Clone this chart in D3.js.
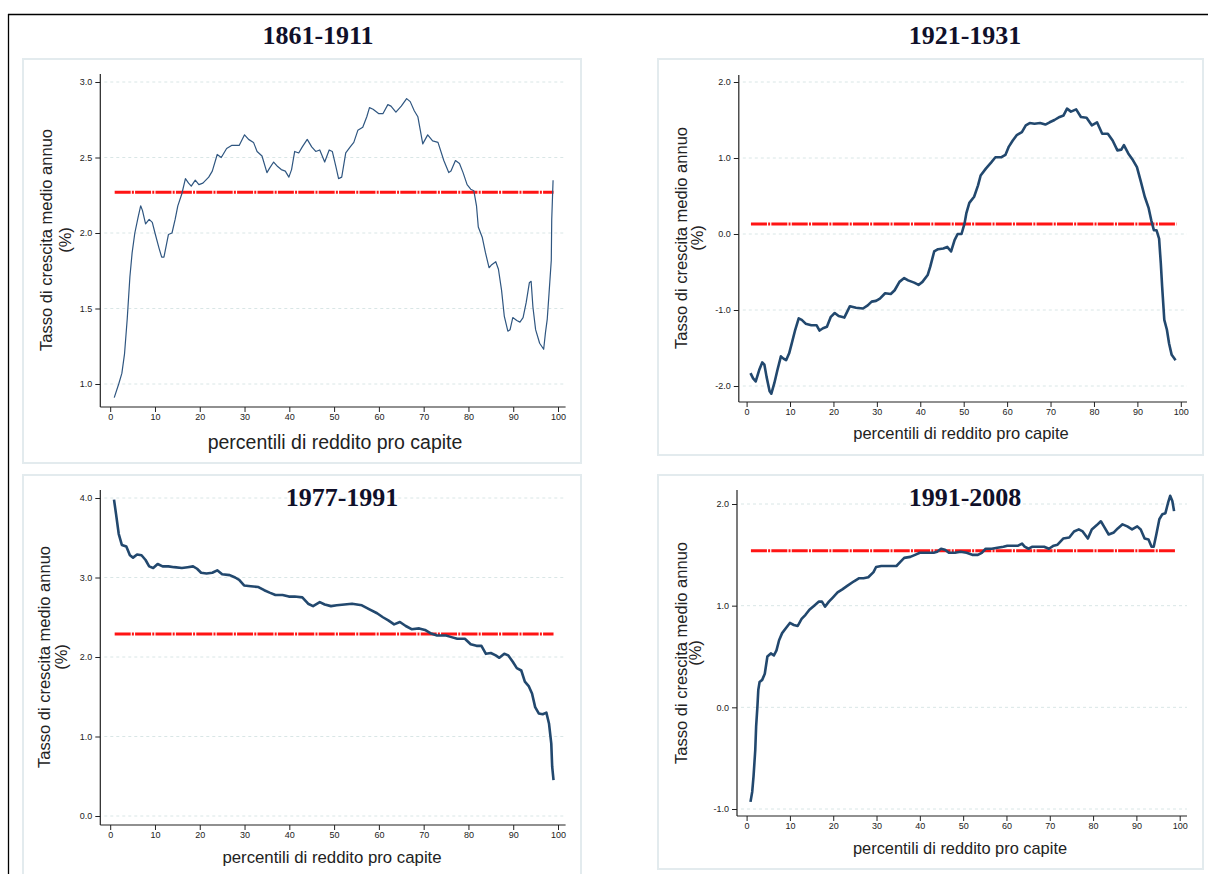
<!DOCTYPE html>
<html><head><meta charset="utf-8">
<script src="https://cdn.jsdelivr.net/npm/d3@7/dist/d3.min.js"></script>
<style>
html,body{margin:0;padding:0;background:#fff;}
svg{display:block;}
</style></head>
<body>
<svg id="chart" width="1208" height="874"></svg>
<script>
// ---------- DATA ----------
const titles = ["1861-1911", "1921-1931", "1977-1991", "1991-2008"];
const yAxisTitle = "Tasso di crescita medio annuo";
const yAxisUnit = "(%)";
const xAxisTitle = "percentili di reddito pro capite";
const xTicks = [0, 10, 20, 30, 40, 50, 60, 70, 80, 90, 100];
const yTicks1861 = [1.0, 1.5, 2.0, 2.5, 3.0];
const yTicks1921 = [-2.0, -1.0, 0.0, 1.0, 2.0];
const yTicks1977 = [0.0, 1.0, 2.0, 3.0, 4.0];
const yTicks1991 = [-1.0, 0.0, 1.0, 2.0];
const meanRates = [2.27, 0.13, 2.29, 1.54];
const meanRange = [1, 99];

const pct1861 = [0.9,1.9,2.6,3.2,3.8,4.4,4.9,5.5,6.2,6.8,7.2,7.9,8.7,9.4,10.0,10.9,11.5,12.0,12.6,13.0,13.8,14.5,15.1,16.0,16.8,17.5,18.1,19.0,19.8,20.7,22.0,22.8,23.9,24.8,26.0,27.1,28.8,30.0,30.9,32.0,32.8,33.9,35.0,35.6,36.5,37.4,38.2,39.1,39.9,40.5,41.2,42.1,42.9,44.0,45.0,45.9,46.8,47.9,48.9,49.6,50.4,51.0,51.7,52.6,53.6,54.4,55.3,56.4,57.3,57.9,58.7,60.0,60.9,62.0,62.7,63.8,65.0,66.2,67.0,67.9,68.7,69.8,70.9,72.0,73.2,74.5,75.6,76.1,77.1,78.0,78.8,79.7,80.5,81.2,81.8,82.2,83.1,83.8,84.6,85.2,86.1,86.7,87.4,88.0,88.8,89.3,89.9,90.8,91.5,92.2,92.9,93.6,94.0,94.4,95.0,95.9,96.8,97.2,97.6,98.0,98.5,98.6,98.9];
const val1861 = [0.91,1.0,1.07,1.2,1.43,1.71,1.87,2.0,2.1,2.18,2.15,2.06,2.09,2.07,2.0,1.9,1.84,1.84,1.93,1.99,2.0,2.09,2.18,2.26,2.36,2.33,2.31,2.35,2.32,2.33,2.37,2.41,2.52,2.5,2.56,2.58,2.58,2.65,2.62,2.6,2.54,2.51,2.4,2.43,2.47,2.44,2.42,2.41,2.37,2.42,2.54,2.53,2.57,2.62,2.57,2.54,2.55,2.47,2.55,2.54,2.44,2.36,2.37,2.53,2.57,2.6,2.68,2.7,2.77,2.83,2.82,2.79,2.79,2.85,2.84,2.8,2.84,2.89,2.87,2.81,2.77,2.59,2.65,2.61,2.6,2.48,2.4,2.41,2.48,2.46,2.4,2.32,2.29,2.28,2.18,2.04,1.97,1.87,1.77,1.79,1.81,1.76,1.62,1.45,1.35,1.36,1.44,1.42,1.41,1.44,1.54,1.67,1.68,1.51,1.36,1.27,1.23,1.34,1.43,1.6,1.82,2.09,2.35];

const pct1921 = [0.9,1.5,2.1,2.9,3.6,4.1,4.6,5.3,5.7,6.4,7.1,7.9,8.5,9.1,9.8,10.4,11.2,12.0,12.7,13.6,14.9,16.1,16.8,17.6,18.5,19.4,20.3,21.2,22.5,23.8,25.2,26.8,27.9,28.8,29.8,30.7,31.9,33.2,34.1,35.2,36.3,37.2,38.6,39.6,40.5,41.7,42.3,43.2,44.1,45.3,46.2,47.1,47.9,48.6,49.5,50.2,50.6,51.3,52.4,53.3,53.9,55.1,56.3,57.3,58.7,59.6,60.4,61.3,62.2,63.4,64.3,65.2,66.3,67.6,68.8,69.8,70.9,72.1,73.0,73.8,74.7,75.9,77.0,78.3,79.5,80.7,81.9,83.2,84.3,85.4,86.3,86.9,87.9,89.0,89.9,90.8,91.7,92.6,93.2,93.8,94.4,95.0,95.4,95.7,96.2,96.8,97.3,97.9,98.8];
const val1921 = [-1.83,-1.9,-1.94,-1.79,-1.69,-1.72,-1.88,-2.07,-2.1,-1.96,-1.79,-1.61,-1.64,-1.66,-1.57,-1.44,-1.26,-1.11,-1.13,-1.18,-1.2,-1.2,-1.27,-1.24,-1.22,-1.09,-1.04,-1.08,-1.1,-0.95,-0.97,-0.98,-0.94,-0.89,-0.88,-0.85,-0.78,-0.79,-0.74,-0.63,-0.58,-0.61,-0.64,-0.67,-0.63,-0.54,-0.43,-0.23,-0.2,-0.19,-0.17,-0.23,-0.08,0.0,0.0,0.14,0.27,0.41,0.49,0.64,0.77,0.86,0.94,1.01,1.01,1.04,1.15,1.23,1.3,1.34,1.43,1.46,1.45,1.46,1.44,1.47,1.5,1.54,1.56,1.65,1.61,1.64,1.54,1.53,1.43,1.47,1.32,1.32,1.23,1.1,1.11,1.17,1.06,0.97,0.88,0.69,0.49,0.34,0.18,0.05,0.05,-0.06,-0.39,-0.69,-1.13,-1.26,-1.44,-1.59,-1.66];

const pct1977 = [0.85,1.3,1.9,2.6,3.6,4.4,5.1,6.0,7.0,7.9,8.7,9.6,10.6,11.7,13.0,14.3,16.0,17.3,18.5,19.4,20.3,21.5,22.8,23.9,25.0,26.7,27.9,28.8,29.9,31.4,33.1,34.4,35.6,36.9,38.5,39.9,41.2,42.9,44.2,45.3,46.8,47.9,49.3,50.6,52.3,54.0,56.2,57.9,59.6,60.9,62.1,63.4,64.7,66.0,67.3,69.0,70.3,71.5,73.0,75.0,76.2,77.5,79.2,80.5,81.8,82.9,83.9,85.0,86.1,86.9,88.0,88.9,89.9,90.8,91.8,92.6,93.5,94.2,94.9,95.7,96.6,97.4,98.0,98.5,98.7,99.0];
const val1977 = [3.98,3.8,3.55,3.41,3.39,3.28,3.25,3.29,3.28,3.22,3.14,3.12,3.17,3.14,3.14,3.13,3.12,3.13,3.14,3.11,3.06,3.05,3.06,3.09,3.04,3.03,3.0,2.97,2.9,2.89,2.88,2.84,2.81,2.78,2.78,2.76,2.76,2.75,2.67,2.64,2.69,2.66,2.64,2.65,2.66,2.67,2.65,2.6,2.55,2.5,2.46,2.41,2.44,2.39,2.35,2.36,2.34,2.3,2.27,2.27,2.25,2.23,2.23,2.16,2.14,2.14,2.04,2.05,2.02,1.99,2.04,2.02,1.94,1.86,1.83,1.69,1.63,1.54,1.37,1.29,1.28,1.3,1.16,0.91,0.62,0.45];

const pct1991 = [0.9,1.3,1.6,2.0,2.2,2.5,2.7,3.0,3.6,4.2,4.8,5.6,6.3,6.9,7.5,8.2,9.1,10.0,10.9,11.8,12.7,13.6,14.5,15.6,16.7,17.4,18.1,19.0,19.9,21.0,22.1,23.4,24.8,26.0,27.0,28.1,29.3,29.9,31.1,32.9,34.6,35.5,36.4,37.8,38.9,40.0,41.4,43.2,44.0,44.9,45.8,46.7,48.1,49.4,50.8,52.1,53.4,54.3,55.2,56.6,57.9,59.3,60.2,61.5,62.7,63.6,64.2,65.1,66.0,67.3,68.7,69.8,70.9,71.8,73.1,74.5,75.6,76.7,77.6,78.8,79.7,80.8,81.8,82.5,83.6,84.8,85.7,86.8,87.9,89.0,90.2,91.0,91.9,92.8,93.5,94.0,94.6,95.3,96.0,96.7,97.3,97.8,98.3,98.7];
const val1991 = [-0.93,-0.83,-0.68,-0.42,-0.19,0.01,0.17,0.25,0.27,0.33,0.5,0.53,0.51,0.56,0.66,0.73,0.78,0.83,0.81,0.8,0.87,0.91,0.96,1.0,1.04,1.04,0.99,1.04,1.08,1.13,1.16,1.2,1.24,1.27,1.27,1.28,1.33,1.38,1.39,1.39,1.39,1.43,1.47,1.48,1.5,1.52,1.52,1.52,1.53,1.56,1.55,1.52,1.52,1.53,1.52,1.5,1.5,1.52,1.56,1.56,1.57,1.58,1.59,1.59,1.59,1.61,1.58,1.56,1.58,1.58,1.58,1.56,1.59,1.6,1.66,1.67,1.73,1.75,1.73,1.66,1.75,1.79,1.83,1.78,1.7,1.72,1.76,1.8,1.78,1.75,1.78,1.75,1.66,1.65,1.58,1.58,1.7,1.85,1.9,1.91,2.01,2.08,2.03,1.93];

// ---------- LAYOUT ----------
const panels = [
  { pct: pct1861, val: val1861, ticks: yTicks1861,
    box: [23, 59, 581, 463], left: 100.3, right: 565.6, top: 74, bottom: 407,
    x0: 110.2, x100: 558, yA: [1.0, 384], yB: [3.0, 82],
    title: [318, 35], ylab: [46, 65, 240], xlab: [335, 442], xlabSize: 19.5, lineW: 1.2, color: "#2f5680" },
  { pct: pct1921, val: val1921, ticks: yTicks1921,
    box: [658, 59, 1203, 455], left: 738.8, right: 1187, top: 75, bottom: 402,
    x0: 746.6, x100: 1180.8, yA: [-2.0, 386], yB: [2.0, 82],
    title: [965, 35], ylab: [681, 697, 238], xlab: [961, 433], xlabSize: 16.5, lineW: 2.6, color: "#22486e" },
  { pct: pct1977, val: val1977, ticks: yTicks1977,
    box: [23, 475, 581, 885], left: 100.3, right: 565.6, top: 490, bottom: 825,
    x0: 110.2, x100: 558, yA: [0.0, 816], yB: [4.0, 498],
    title: [342, 497], ylab: [44, 61, 657], xlab: [332, 857], xlabSize: 16.8, lineW: 2.6, color: "#22486e" },
  { pct: pct1991, val: val1991, ticks: yTicks1991,
    box: [658, 475, 1203, 869], left: 737, right: 1187, top: 490, bottom: 816,
    x0: 746.6, x100: 1179.7, yA: [-1.0, 809], yB: [2.0, 504],
    title: [965, 497], ylab: [681, 695, 653], xlab: [960, 848], xlabSize: 16.4, lineW: 2.6, color: "#22486e" }
];

const svg = d3.select("#chart");
svg.append("rect").attr("width", 1208).attr("height", 874).attr("fill", "#fff");

// outer frame lines
svg.append("line").attr("x1", 8).attr("x2", 1208).attr("y1", 14.5).attr("y2", 14.5)
  .attr("stroke", "#000").attr("stroke-width", 1.3);
svg.append("line").attr("x1", 8.5).attr("x2", 8.5).attr("y1", 14).attr("y2", 874)
  .attr("stroke", "#000").attr("stroke-width", 1.3);

const fmt = d => d.toFixed(1);
const sans = "'Liberation Sans', Arial, sans-serif";

panels.forEach((p, i) => {
  const g = svg.append("g");
  // panel box
  g.append("rect")
    .attr("x", p.box[0]).attr("y", p.box[1])
    .attr("width", p.box[2] - p.box[0]).attr("height", p.box[3] - p.box[1])
    .attr("fill", "#fff").attr("stroke", "#e3ebee").attr("stroke-width", 2);

  const x = d3.scaleLinear().domain([0, 100]).range([p.x0, p.x100]);
  const y = d3.scaleLinear().domain([p.yA[0], p.yB[0]]).range([p.yA[1], p.yB[1]]);

  // grid
  g.selectAll(".grid").data(p.ticks).enter().append("line")
    .attr("x1", p.left + 4).attr("x2", p.right)
    .attr("y1", d => y(d)).attr("y2", d => y(d))
    .attr("stroke", "#d9e6e6").attr("stroke-width", 1)
    .attr("stroke-dasharray", "3,3");

  // y axis
  const yAxis = d3.axisLeft(y).tickValues(p.ticks).tickFormat(fmt).tickSize(5).tickPadding(3);
  const ya = g.append("g").attr("transform", `translate(${p.left},0)`).call(yAxis);
  ya.select(".domain").remove();
  ya.selectAll("line").attr("stroke", "#222");
  ya.selectAll("text").attr("font-family", sans).attr("font-size", 9).attr("fill", "#222");
  g.append("line").attr("x1", p.left).attr("x2", p.left).attr("y1", p.top).attr("y2", p.bottom)
    .attr("stroke", "#222").attr("stroke-width", 1.2);

  // x axis
  const xAxis = d3.axisBottom(x).tickValues(xTicks).tickFormat(d3.format("d")).tickSize(5).tickPadding(2);
  const xa = g.append("g").attr("transform", `translate(0,${p.bottom})`).call(xAxis);
  xa.select(".domain").remove();
  xa.selectAll("line").attr("stroke", "#222");
  xa.selectAll("text").attr("font-family", sans).attr("font-size", 9).attr("fill", "#222");
  g.append("line").attr("x1", p.left).attr("x2", p.right).attr("y1", p.bottom).attr("y2", p.bottom)
    .attr("stroke", "#222").attr("stroke-width", 1.2);

  // mean line
  g.append("line")
    .attr("x1", x(meanRange[0])).attr("x2", x(meanRange[1]))
    .attr("y1", y(meanRates[i])).attr("y2", y(meanRates[i]))
    .attr("stroke", "#ff1414").attr("stroke-width", 3)
    .attr("stroke-dasharray", "16,1.2,2,1.2");

  // data line
  const pts = p.pct.map((d, k) => [d, p.val[k]]);
  g.append("path").datum(pts)
    .attr("fill", "none").attr("stroke", p.color).attr("stroke-width", p.lineW)
    .attr("stroke-linejoin", "round")
    .attr("d", d3.line().x(d => x(d[0])).y(d => y(d[1])));

  // title
  g.append("text").attr("x", p.title[0]).attr("y", p.title[1]).attr("dy", "0.35em")
    .attr("text-anchor", "middle").attr("font-family", "'Liberation Serif', 'Times New Roman', serif")
    .attr("font-weight", "bold").attr("font-size", 26).attr("fill", "#10102a")
    .text(titles[i]);

  // y labels
  g.append("text").attr("transform", `translate(${p.ylab[0]},${p.ylab[2]}) rotate(-90)`)
    .attr("dy", "0.35em").attr("text-anchor", "middle")
    .attr("font-family", sans).attr("font-size", 16.5).attr("fill", "#222")
    .text(yAxisTitle);
  g.append("text").attr("transform", `translate(${p.ylab[1]},${p.ylab[2]}) rotate(-90)`)
    .attr("dy", "0.35em").attr("text-anchor", "middle")
    .attr("font-family", sans).attr("font-size", 16.5).attr("fill", "#222")
    .text(yAxisUnit);

  // x label
  g.append("text").attr("x", p.xlab[0]).attr("y", p.xlab[1]).attr("dy", "0.35em")
    .attr("text-anchor", "middle").attr("font-family", sans)
    .attr("font-size", p.xlabSize).attr("fill", "#222")
    .text(xAxisTitle);
});
</script>
</body></html>
